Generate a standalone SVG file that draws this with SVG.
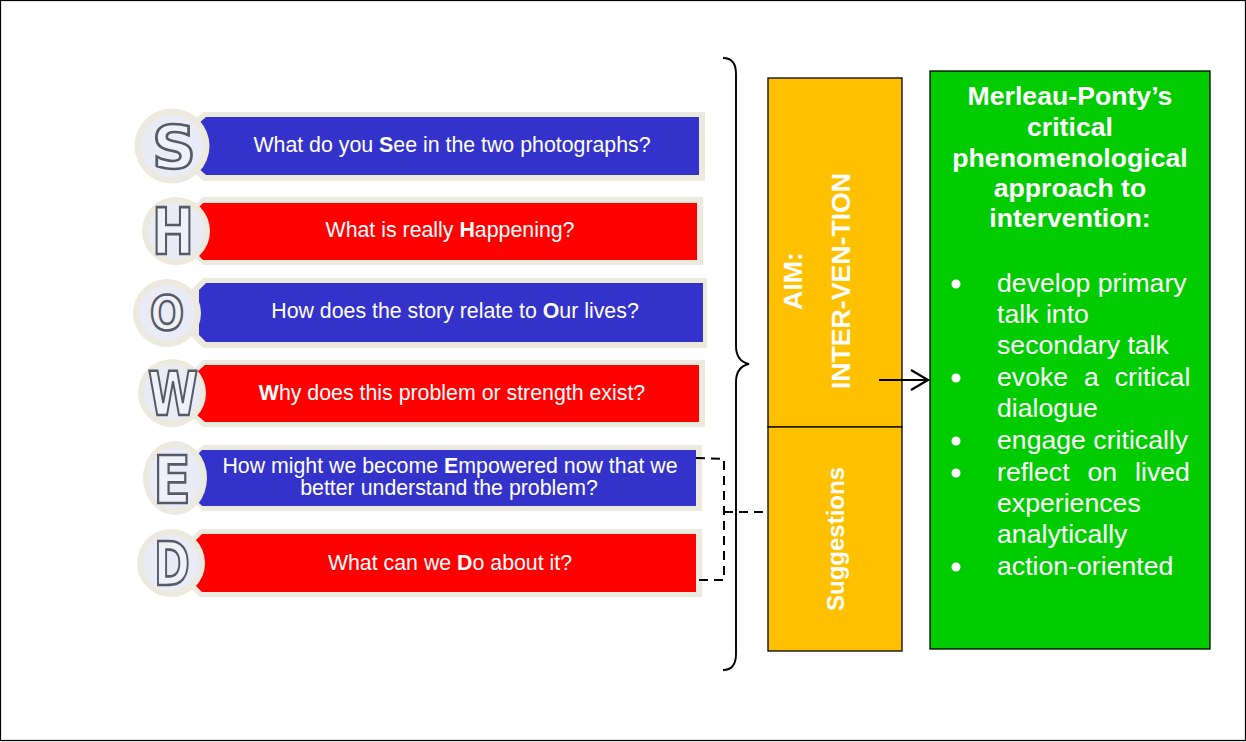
<svg xmlns="http://www.w3.org/2000/svg" width="1246" height="742" viewBox="0 0 1246 742">
<style>
text{font-family:"Liberation Sans",Arial,sans-serif}
.c{fill:#ece9df}
.i{fill:#e9ecf6}
.f{fill:#ece9df}
.b{fill:#3333cc}
.r{fill:#ff0000}
.t{fill:#fff;font-size:21.33px;text-anchor:middle}
.l{font-family:"DejaVu Sans",sans-serif;font-weight:bold;fill:#eef1f8;stroke:#555a66;stroke-width:2.6;text-anchor:middle}
.g{fill:#fff;font-weight:bold;font-size:26.67px;text-anchor:middle}
.d{fill:#fff;font-size:26.67px}
.y{fill:#ffc000;stroke:#000;stroke-width:1.3}
</style>
<rect x="0.5" y="0.5" width="1245" height="740" fill="#fff" stroke="#000" stroke-width="1.2"/>
<g id="node-s"><path class="f" d="M203 112H705V181H203L190 168V125Z"/><path class="b" d="M206 117H699V175H206L198 168V124Z"/><circle class="c" cx="172" cy="146" r="37.500"/><circle class="i" cx="172" cy="146" r="31"/><text class="l" x="174" y="168" font-size="58" textLength="44" lengthAdjust="spacingAndGlyphs">S</text><text class="t" x="452" y="152">What do you <tspan font-weight="bold">S</tspan>ee in the two photographs?</text></g>
<g id="node-h"><path class="f" d="M203 197H703V265H203L190 252V210Z"/><path class="r" d="M203 203H697V260H203L196 253V210Z"/><circle class="c" cx="176" cy="231" r="34"/><circle class="i" cx="176" cy="231" r="28"/><text class="l" x="173" y="254" font-size="64" textLength="42" lengthAdjust="spacingAndGlyphs">H</text><text class="t" x="450" y="237">What is really <tspan font-weight="bold">H</tspan>appening?</text></g>
<g id="node-o"><path class="f" d="M203 278H707V348H203L190 335V291Z"/><path class="b" d="M206 283H703V342H206L199 335V290Z"/><circle class="c" cx="167" cy="313" r="34"/><circle class="i" cx="167" cy="313" r="28"/><text class="l" x="167" y="330" font-size="48" textLength="34" lengthAdjust="spacingAndGlyphs">O</text><text class="t" x="455" y="318">How does the story relate to <tspan font-weight="bold">O</tspan>ur lives?</text></g>
<g id="node-w"><path class="f" d="M203 360H705V427H203L190 414V373Z"/><path class="r" d="M205 365H699V422H205L197 415V372Z"/><circle class="c" cx="172" cy="393" r="34"/><circle class="i" cx="172" cy="393" r="28"/><text class="l" x="173" y="415" font-size="60" textLength="50" lengthAdjust="spacingAndGlyphs">W</text><text class="t" x="452" y="400"><tspan font-weight="bold">W</tspan>hy does this problem or strength exist?</text></g>
<g id="node-e"><path class="f" d="M203 445H702V511H203L190 498V458Z"/><path class="b" d="M202 450H696V506H202L195 499V457Z"/><ellipse class="c" cx="175" cy="478" rx="32" ry="37"/><ellipse class="i" cx="175" cy="478" rx="26" ry="31"/><text class="l" x="172" y="503" font-size="66" textLength="38" lengthAdjust="spacingAndGlyphs">E</text><text class="t" x="450" y="473">How might we become <tspan font-weight="bold">E</tspan>mpowered now that we</text><text class="t" x="449" y="495">better understand the problem?</text></g>
<g id="node-d"><path class="f" d="M200 529H702V597H200L187 584V542Z"/><path class="r" d="M202 534H696V592H202L195 585V541Z"/><circle class="c" cx="171" cy="563" r="34"/><circle class="i" cx="171" cy="563" r="28"/><text class="l" x="172" y="585" font-size="60" textLength="36" lengthAdjust="spacingAndGlyphs">D</text><text class="t" x="450" y="570">What can we <tspan font-weight="bold">D</tspan>o about it?</text></g>
<g id="node-aim"><rect class="y" x="768" y="78" width="134" height="349"/><text class="g" transform="translate(802,281) rotate(-90)">AIM:</text><text class="g" transform="translate(850,281) rotate(-90)">INTER-VEN-TION</text></g>
<g id="node-suggestions"><rect class="y" x="768" y="427" width="134" height="224"/><text class="g" transform="translate(844,539) rotate(-90)" style="font-size:24px">Suggestions</text></g>
<g id="node-approach"><rect x="930" y="71" width="280" height="578" fill="#00cc00" stroke="#000" stroke-width="1.300"/>
<text class="g" x="1070" y="105">Merleau-Ponty’s</text><text class="g" x="1070" y="136">critical</text><text class="g" x="1070" y="167">phenomenological</text><text class="g" x="1070" y="197">approach to</text><text class="g" x="1070" y="227">intervention:</text>
<g fill="#fff"><circle cx="956" cy="284" r="4.500"/><circle cx="956" cy="378" r="4.500"/><circle cx="956" cy="441" r="4.500"/><circle cx="956" cy="473" r="4.500"/><circle cx="956" cy="567" r="4.500"/></g>
<text class="d" x="997" y="292">develop primary</text><text class="d" x="997" y="323">talk into</text><text class="d" x="997" y="354">secondary talk</text>
<text class="d" x="997" y="386" word-spacing="8.500">evoke a critical</text><text class="d" x="997" y="417">dialogue</text><text class="d" x="997" y="449">engage critically</text>
<text class="d" x="997" y="481" word-spacing="10.500">reflect on lived</text><text class="d" x="997" y="512">experiences</text><text class="d" x="997" y="543">analytically</text><text class="d" x="997" y="575">action-oriented</text></g>
<g id="connectors" fill="none" stroke="#000">
<path stroke-width="1.900" d="M723 58C732 58 736 64 736 74V346C736 356 740 362 749 364C740 366 736 372 736 382V654C736 664 732 670 723 670"/>
<path stroke-width="2" stroke-dasharray="9 6" d="M696 458L724 459V580L696 580M724 512H768"/>
<path stroke-width="2.200" d="M879 380H927M911 370L928 380L911 390"/>
</g>
</svg>
